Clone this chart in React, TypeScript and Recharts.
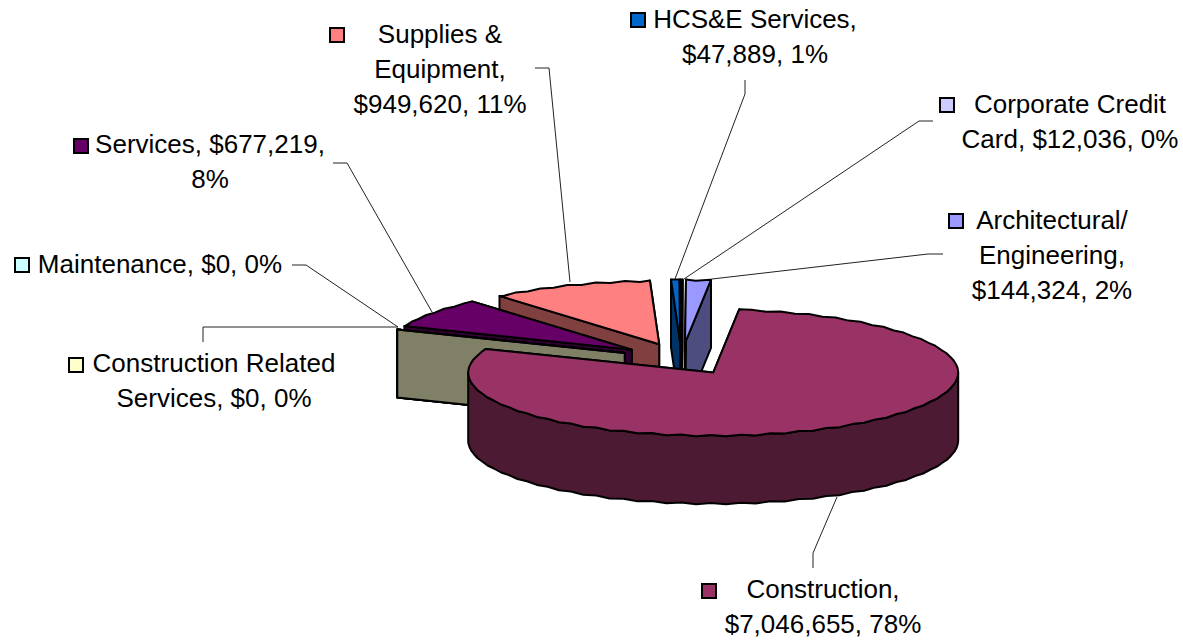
import { Cell, Pie, PieChart } from "recharts"

// drawn counter-clockwise from the Architectural cut, so the back slices paint first
const categories = [
  "Architectural/ Engineering",
  "Corporate Credit Card",
  "HCS&E Services",
  "Supplies & Equipment",
  "Services",
  "Maintenance",
  "Construction Related Services",
  "Construction",
]
const amounts = [144324, 12036, 47889, 949620, 677219, 0, 0, 7046655]
const percents = [2, 0, 1, 11, 8, 0, 0, 78]
const colors = ["#9999FF", "#CCCCFF", "#0066CC", "#FF8080", "#660066", "#CCFFFF", "#FFFFCC", "#993366"]

// how many words go on each row of a label
const labelWrap = [[1, 1, 2], [2, 3], [2, 2], [2, 1, 2], [2, 1], [3], [2, 3], [1, 2]]

type LabelBox = { swatch: [number, number]; center: number; baseline: number; leader: [number, number][] }

const labelBoxes: LabelBox[] = [
  { swatch: [949, 214], center: 1052, baseline: 229, leader: [[943, 254], [928, 254], [712, 279]] },
  { swatch: [940, 98], center: 1070, baseline: 113, leader: [[933, 121], [919, 121], [684, 279]] },
  { swatch: [631, 13], center: 755, baseline: 28, leader: [[745, 80], [745, 94], [675, 279]] },
  { swatch: [330, 28], center: 440, baseline: 43, leader: [[535, 68], [549, 68], [570, 282]] },
  { swatch: [74, 139], center: 210, baseline: 153, leader: [[333, 163], [347, 163], [432, 312]] },
  { swatch: [15, 258], center: 160, baseline: 273, leader: [[292, 265], [306, 265], [398, 327]] },
  { swatch: [69, 358], center: 214, baseline: 372, leader: [[203, 342], [203, 327], [398, 327]] },
  { swatch: [702, 584], center: 823, baseline: 598, leader: [[813, 568], [813, 553], [837, 497]] },
]

const WIDTH = 1183
const HEIGHT = 641
const CX = 681.6
const CY = 359
const RADIUS = 245
const TILT = 0.26
const DEPTH = 68
const EXPLODE = 0.25
const ROW_HEIGHT = 35
const STEP = 7
const NOTCH = 0.98

const rad = (deg: number) => (deg * Math.PI) / 180

const darken = (hex: string) => {
  const channels = [1, 3, 5].map((i) => Math.round(parseInt(hex.slice(i, i + 2), 16) / 2))
  return `rgb(${channels.join(",")})`
}

const toPath = (points: number[][]) => `M${points.map(([x, y]) => `${x.toFixed(1)},${y.toFixed(1)}`).join("L")}Z`

// walks the rim in short notched chords, which gives the bumpy edge of the old 3-D charts
const rimSteps = (from: number, to: number) => {
  const steps = [{ a: from, k: 1 }]
  for (let a = Math.floor(from / STEP) * STEP; a < to; a += STEP) {
    if (a > from) steps.push({ a, k: 1 })
    const half = a + STEP / 2
    if (half > from && half < to) steps.push({ a: half, k: NOTCH })
  }
  steps.push({ a: to, k: 1 })
  return steps
}

function TiltedSlice(props: any) {
  const { cx, cy, outerRadius, startAngle, endAngle, fill } = props
  const from = Math.min(startAngle, endAngle)
  const to = Math.max(startAngle, endAngle)
  const mid = (from + to) / 2
  const ox = cx + EXPLODE * outerRadius * Math.cos(rad(mid))
  const oy = cy - EXPLODE * outerRadius * Math.sin(rad(mid)) * TILT
  // the notch only moves a point up or down, the sides of the pie stay clean
  const at = (a: number, drop = 0, k = 1) => [
    ox + outerRadius * Math.cos(rad(a)),
    oy - k * outerRadius * Math.sin(rad(a)) * TILT + drop,
  ]
  const apex = [ox, oy]
  const apexLow = [ox, oy + DEPTH]
  const side = darken(fill)
  const stroke = { stroke: "#000", strokeWidth: 2, strokeLinejoin: "round" as const }

  // front half of the rim only, the back half is hidden by the top
  const rims: string[] = []
  for (const base of [-180, 180]) {
    const a = Math.max(from, base)
    const b = Math.min(to, base + 180)
    if (b > a) {
      const steps = rimSteps(a, b)
      rims.push(
        toPath([
          ...steps.map((s) => at(s.a, 0, s.k)),
          ...[...steps].reverse().map((s) => at(s.a, DEPTH, s.k)),
        ]),
      )
    }
  }

  return (
    <g>
      <path d={toPath([apex, at(from), at(from, DEPTH), apexLow])} fill={side} {...stroke} />
      <path d={toPath([apex, at(to), at(to, DEPTH), apexLow])} fill={side} {...stroke} />
      {rims.map((d) => (
        <path key={d} d={d} fill={side} {...stroke} />
      ))}
      <path d={toPath([apex, ...rimSteps(from, to).map((s) => at(s.a, 0, s.k))])} fill={fill} {...stroke} />
    </g>
  )
}

function SliceLabel({ index }: any) {
  const box = labelBoxes[index]
  const words = `${categories[index]}, $${amounts[index].toLocaleString("en-US")}, ${percents[index]}%`.split(" ")
  let used = 0
  const rows = labelWrap[index].map((count) => {
    const row = words.slice(used, used + count).join(" ")
    used += count
    return row
  })

  return (
    <g>
      <polyline
        points={box.leader.map((p) => p.join(",")).join(" ")}
        fill="none"
        stroke="#222"
        strokeWidth={1}
      />
      <rect x={box.swatch[0]} y={box.swatch[1]} width={14} height={14} fill={colors[index]} stroke="#000" strokeWidth={2} />
      {rows.map((row, i) => (
        <text
          key={row}
          x={box.center}
          y={box.baseline + i * ROW_HEIGHT}
          textAnchor="middle"
          fontFamily="'Liberation Sans', Arial, sans-serif"
          fontSize={26}
          fill="#000"
        >
          {row}
        </text>
      ))}
    </g>
  )
}

const tableData = categories.map((name, i) => ({ name, value: amounts[i] }))

export default function App() {
  return (
    <div style={{ position: "absolute", left: 0, top: 0, width: WIDTH, height: HEIGHT, background: "#fff" }}>
      <PieChart width={WIDTH} height={HEIGHT} margin={{ top: 0, right: 0, bottom: 0, left: 0 }}>
        <Pie
          data={tableData}
          dataKey="value"
          nameKey="name"
          cx={CX}
          cy={CY}
          innerRadius={0}
          outerRadius={RADIUS}
          startAngle={83.9}
          endAngle={443.9}
          paddingAngle={0}
          stroke="none"
          shape={TiltedSlice}
          label={SliceLabel}
          labelLine={false}
          isAnimationActive={false}
        >
          {categories.map((name, i) => (
            <Cell key={name} fill={colors[i]} />
          ))}
        </Pie>
      </PieChart>
    </div>
  )
}
